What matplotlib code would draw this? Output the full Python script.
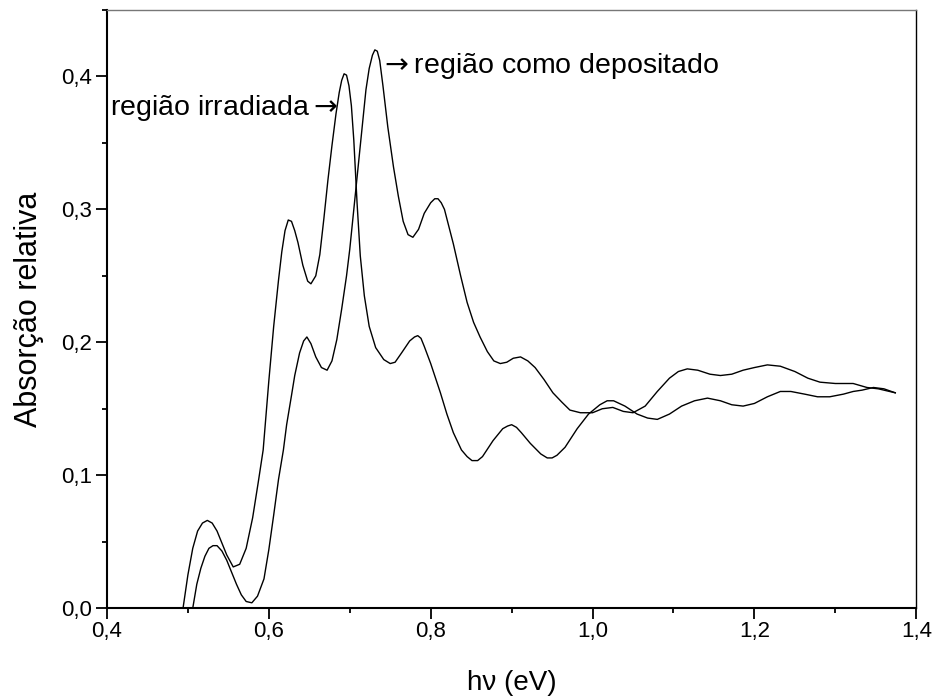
import numpy as np
import matplotlib.pyplot as plt
from matplotlib.ticker import FuncFormatter, MultipleLocator

# curve: "região irradiada"
x_irr = [0.494, 0.500, 0.506, 0.512, 0.518, 0.524, 0.530, 0.536, 0.542, 0.548, 0.556,
         0.564, 0.572, 0.580, 0.587, 0.593, 0.600, 0.606, 0.612, 0.616, 0.620,
         0.624, 0.628, 0.632, 0.636, 0.642, 0.648, 0.652, 0.658, 0.663, 0.668,
         0.673, 0.678, 0.683, 0.687, 0.690, 0.693, 0.696, 0.699, 0.702, 0.705,
         0.709, 0.713, 0.718, 0.724, 0.732, 0.742, 0.750, 0.756, 0.764, 0.774,
         0.780, 0.784, 0.788, 0.792, 0.800, 0.812, 0.820, 0.828, 0.838, 0.845,
         0.851, 0.858, 0.864, 0.877, 0.889, 0.895, 0.900, 0.906, 0.912, 0.923,
         0.936, 0.944, 0.950, 0.956, 0.966, 0.981, 0.995, 1.009, 1.018, 1.026,
         1.040, 1.055, 1.068, 1.080, 1.095, 1.110, 1.126, 1.142, 1.158, 1.172,
         1.186, 1.200, 1.216, 1.232, 1.245, 1.262, 1.278, 1.293, 1.310, 1.322,
         1.333, 1.347, 1.360, 1.374]
y_irr = [0.000, 0.025, 0.045, 0.058, 0.064, 0.066, 0.064, 0.058, 0.049, 0.040, 0.031,
         0.033, 0.045, 0.068, 0.095, 0.119, 0.171, 0.212, 0.247, 0.268, 0.284,
         0.292, 0.291, 0.284, 0.275, 0.258, 0.246, 0.244, 0.250, 0.266, 0.293,
         0.322, 0.348, 0.372, 0.388, 0.397, 0.402, 0.401, 0.393, 0.378, 0.352,
         0.305, 0.265, 0.235, 0.212, 0.196, 0.187, 0.184, 0.185, 0.192, 0.201,
         0.204, 0.205, 0.203, 0.197, 0.184, 0.162, 0.146, 0.132, 0.119, 0.114,
         0.111, 0.111, 0.114, 0.126, 0.135, 0.137, 0.138, 0.136, 0.132, 0.124,
         0.116, 0.113, 0.113, 0.115, 0.121, 0.135, 0.146, 0.153, 0.156, 0.156,
         0.152, 0.146, 0.143, 0.142, 0.146, 0.152, 0.156, 0.158, 0.156, 0.153,
         0.152, 0.154, 0.159, 0.163, 0.163, 0.161, 0.159, 0.159, 0.161, 0.163,
         0.164, 0.166, 0.165, 0.162]

# curve: "região como depositado"
x_dep = [0.506, 0.511, 0.516, 0.521, 0.526, 0.531, 0.536, 0.542, 0.548, 0.554, 0.560,
         0.566, 0.572, 0.579, 0.586, 0.594, 0.600, 0.606, 0.612, 0.618, 0.622,
         0.628, 0.632, 0.638, 0.643, 0.647, 0.652, 0.658, 0.665, 0.672, 0.678,
         0.684, 0.690, 0.696, 0.700, 0.705, 0.710, 0.715, 0.720, 0.724, 0.728,
         0.731, 0.734, 0.737, 0.741, 0.747, 0.754, 0.760, 0.766, 0.772, 0.778,
         0.785, 0.792, 0.800, 0.805, 0.809, 0.813, 0.817, 0.828, 0.837, 0.845,
         0.853, 0.861, 0.870, 0.878, 0.886, 0.894, 0.902, 0.911, 0.920, 0.929,
         0.940, 0.951, 0.962, 0.972, 0.985, 1.000, 1.012, 1.025, 1.038, 1.050,
         1.065, 1.080, 1.095, 1.106, 1.117, 1.130, 1.145, 1.158, 1.172, 1.186,
         1.200, 1.216, 1.232, 1.250, 1.266, 1.281, 1.300, 1.322, 1.339, 1.353,
         1.374]
y_dep = [0.000, 0.018, 0.030, 0.039, 0.045, 0.047, 0.047, 0.043, 0.036, 0.027, 0.018,
         0.010, 0.005, 0.004, 0.009, 0.022, 0.044, 0.070, 0.097, 0.119, 0.138,
         0.160, 0.175, 0.192, 0.201, 0.204, 0.199, 0.189, 0.181, 0.179, 0.186,
         0.202, 0.225, 0.250, 0.270, 0.300, 0.330, 0.360, 0.390, 0.406, 0.416,
         0.420, 0.419, 0.412, 0.393, 0.362, 0.332, 0.310, 0.291, 0.281, 0.279,
         0.285, 0.297, 0.305, 0.308, 0.308, 0.305, 0.300, 0.274, 0.250, 0.230,
         0.215, 0.204, 0.193, 0.186, 0.184, 0.185, 0.188, 0.189, 0.186, 0.181,
         0.172, 0.162, 0.155, 0.149, 0.147, 0.147, 0.150, 0.151, 0.148, 0.147,
         0.152, 0.163, 0.173, 0.178, 0.180, 0.179, 0.176, 0.175, 0.176, 0.179,
         0.181, 0.183, 0.182, 0.178, 0.173, 0.170, 0.169, 0.169, 0.166, 0.165,
         0.162]

fig = plt.figure(figsize=(9.35, 6.99), dpi=100)
ax = fig.add_axes([0.1144, 0.130, 0.8656, 0.8557])

ax.plot(x_irr, y_irr, color='black', lw=1.0)
ax.plot(x_dep, y_dep, color='black', lw=1.0)

ax.set_xlim(0.4, 1.4)
ax.set_ylim(0.0, 0.45)

fam = ['Liberation Sans', 'DejaVu Sans']
comma = FuncFormatter(lambda v, pos: ('%.1f' % v).replace('.', ','))
ax.xaxis.set_major_locator(MultipleLocator(0.2))
ax.xaxis.set_minor_locator(MultipleLocator(0.1))
ax.yaxis.set_major_locator(MultipleLocator(0.1))
ax.yaxis.set_minor_locator(MultipleLocator(0.05))
ax.xaxis.set_major_formatter(comma)
ax.yaxis.set_major_formatter(comma)
ax.tick_params(which='major', direction='out', length=8, width=1.3, labelsize=16, pad=3)
ax.tick_params(which='minor', direction='out', length=3.5, width=1.3)
ax.tick_params(axis='x', which='major', pad=1.5)
ax.tick_params(top=False, right=False)
for lab in ax.get_xticklabels() + ax.get_yticklabels():
    lab.set_family(fam)

ax.spines['left'].set_linewidth(1.5)
ax.spines['bottom'].set_linewidth(1.5)
ax.spines['right'].set_linewidth(1.0)
ax.spines['top'].set_linewidth(1.0)
ax.spines['top'].set_color('#777777')

ax.set_xlabel('h\u03bd (eV)', fontsize=20, family=fam, labelpad=20)
ax.set_ylabel('Absorção relativa', fontsize=22, family=fam, labelpad=12)

ax.text(0.404, 0.376, 'região irradiada$\\rightarrow$', fontsize=20.5, family=fam,
        ha='left', va='center')
ax.text(0.736, 0.408, '$\\rightarrow$região como depositado', fontsize=20.5, family=fam,
        ha='left', va='center')

fig.savefig('out.png', dpi=100)
